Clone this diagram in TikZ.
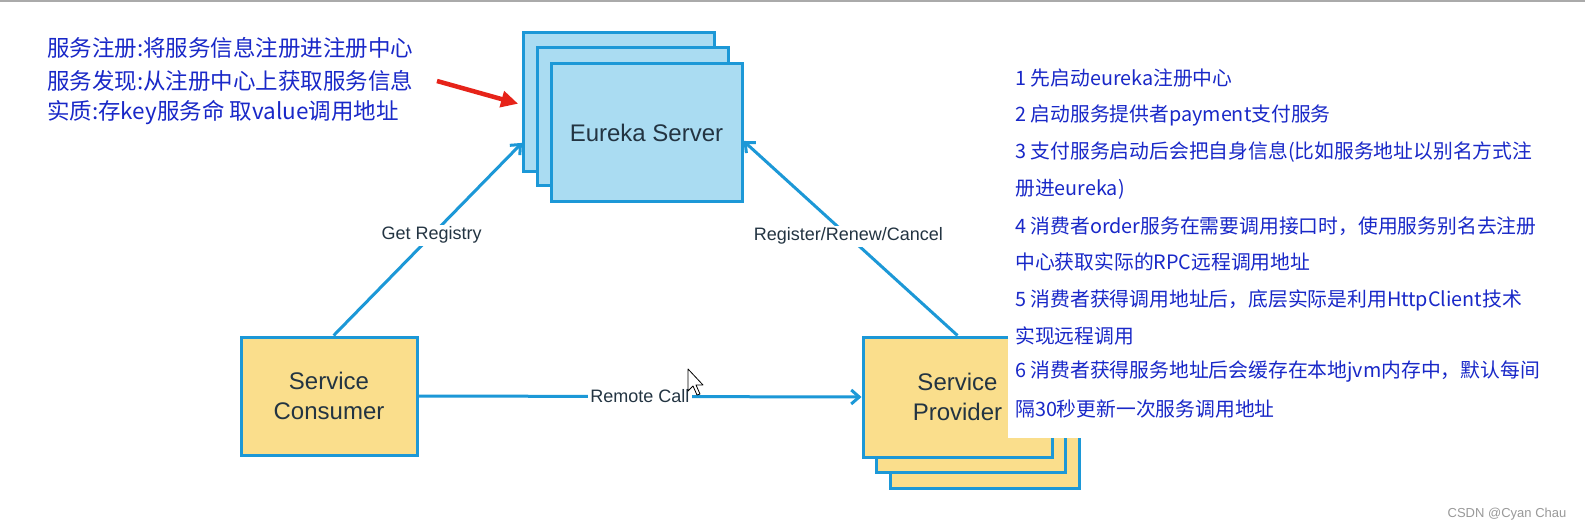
\documentclass[tikz,border=0pt]{standalone}
\usepackage{fontspec}
\setmainfont{Liberation Sans}
\newfontfamily\cjkfont{Noto Sans CJK SC}
\usetikzlibrary{arrows.meta,calc}
\definecolor{boxline}{RGB}{28,152,215}
\definecolor{serverfill}{RGB}{170,220,242}
\definecolor{svcfill}{RGB}{250,222,140}
\definecolor{txtdark}{RGB}{35,52,66}
\definecolor{cntxt}{RGB}{25,40,200}
\definecolor{redarrow}{RGB}{230,35,25}
\definecolor{topline}{RGB}{170,170,170}
\begin{document}
\begin{tikzpicture}[x=1pt,y=-1pt,
 server/.style={draw=boxline,line width=3pt,fill=serverfill,minimum width=191pt,minimum height=138pt,inner sep=0pt},
 svc/.style={draw=boxline,line width=3pt,fill=svcfill,minimum width=189pt,minimum height=120pt,inner sep=0pt},
 boxtext/.style={text=txtdark,font=\fontsize{24}{30}\selectfont,align=center},
 conn/.style={draw=boxline,line width=3pt,-{Straight Barb[length=8pt,width=14pt]}},
 lbl/.style={fill=white,text=txtdark,font=\fontsize{18}{22}\selectfont,inner sep=2pt},
 lefttxt/.style={anchor=west,text=cntxt,font=\cjkfont\fontsize{22.5}{26}\selectfont,inner sep=0pt},
 righttxt/.style={anchor=west,text=cntxt,font=\cjkfont\fontsize{19.8}{24}\selectfont,inner sep=0pt},
 redarr/.style={draw=redarrow,line width=4.5pt,-{Triangle[length=17pt,width=16pt]}},
]
\useasboundingbox (0,0) rectangle (1585,532);
\fill[white] (0,0) rectangle (1585,532);
\draw[topline,line width=2pt] (0,1.5) -- (1585,1.5);

% left texts
\node[lefttxt] (l1) at (47,48) {服务注册:将服务信息注册进注册中心};
\node[lefttxt] (l2) at (47,81) {服务发现:从注册中心上获取服务信息};
\node[lefttxt] (l3) at (47,113) {实质:存key服务命 取value调用地址};

% Eureka server stack
\node[server] (eback) at (619,102) {};
\node[server] (emid) at (633,116.5) {};
\node[server,boxtext] (efront) at (646.5,132.5) {Eureka Server};

% consumer
\node[svc,boxtext,minimum width=176pt,minimum height=118pt] (cons) at (329,396) {Service\\Consumer};

% provider stack
\node[svc] (pback) at (984.5,428) {};
\node[svc] (pmid) at (971,412.5) {};
\node[svc,boxtext] (pfront) at (957.5,397) {Service\\Provider};

% connectors
\draw[conn] ($(cons.north west)!0.526!(cons.north east)$) -- ($(eback.north west)!0.79!(eback.south west)$)
  node[lbl,pos=0.52] (lget) {Get Registry};
\draw[conn] (pfront.north) -- ($(efront.north east)!0.56!(efront.south east)$)
  node[lbl,pos=0.51] (lreg) {Register/Renew/Cancel};
\draw[conn] (cons.east) -- (pfront.west)
  node[lbl,pos=0.5] (lrem) {Remote Call};

% red arrow
\coordinate (redstart) at (437,81);
\draw[redarr,shorten >=4pt] (redstart) -- ($(eback.north west)!0.52!(eback.south west)$);

% white panel with notes
\fill[white] (1008,55) rectangle (1560,438);
\node[righttxt] (r1) at (1015,78) {1 先启动eureka注册中心};
\node[righttxt] (r2) at (1015,115) {2 启动服务提供者payment支付服务};
\node[righttxt] (r3) at (1015,152) {3 支付服务启动后会把自身信息(比如服务地址以别名方式注};
\node[righttxt] (r4) at (1015,189) {册进eureka)};
\node[righttxt] (r5) at (1015,226) {4 消费者order服务在需要调用接口时，使用服务别名去注册};
\node[righttxt] (r6) at (1015,262) {中心获取实际的RPC远程调用地址};
\node[righttxt] (r7) at (1015,300) {5 消费者获得调用地址后，底层实际是利用HttpClient技术};
\node[righttxt] (r8) at (1015,336) {实现远程调用};
\node[righttxt] (r9) at (1015,372) {6 消费者获得服务地址后会缓存在本地jvm内存中，默认每间};
\node[righttxt] (r10) at (1015,409) {隔30秒更新一次服务调用地址};

% mouse cursor
\draw[black,fill=white,line width=0.8pt,line join=round]
  (688,369) -- (688,391) -- (693,386) -- (697,395) -- (700,394) -- (696,385) -- (703,385) -- cycle;

% watermark
\node[text=gray!80,font=\fontsize{13}{15}\selectfont,inner sep=0pt] (wm) at (1507,514) {CSDN @Cyan Chau};
\end{tikzpicture}
\end{document}
